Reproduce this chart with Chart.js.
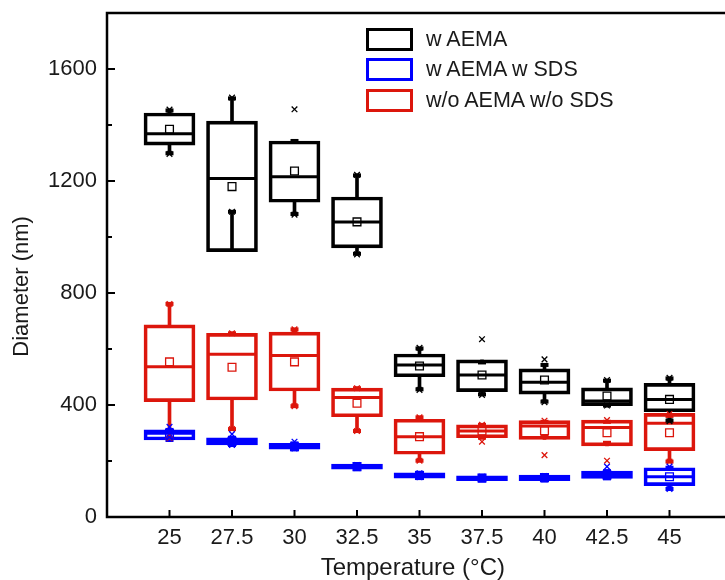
<!DOCTYPE html>
<html>
<head>
<meta charset="utf-8">
<script src="https://cdn.jsdelivr.net/npm/chart.js@4.4.1/dist/chart.umd.min.js"></script>
<style>
  html, body { margin: 0; padding: 0; background: #fff; overflow: hidden; }
  #clip { position: relative; width: 725px; height: 580px; overflow: hidden; }
  #wrap { position: relative; width: 745px; height: 580px; }
  #legend { position: absolute; left: 0; top: 0; font-family: "Liberation Sans", Arial, sans-serif; font-size: 21.5px; color: #1a1a1a; }
  .row { position: absolute; left: 366px; height: 23px; white-space: nowrap; }
  .sw { position: absolute; left: 0; top: 0; width: 41px; height: 17px; border: 3px solid #000; background: #fff; }
  .lbl { position: absolute; left: 60px; top: 0; line-height: 23px; }
</style>
</head>
<body>
<div id="clip"><div id="wrap">
  <canvas id="c" width="745" height="580" style="width:745px;height:580px"></canvas>
  <div id="legend"></div>
</div></div>
<script>
// ---- data ----
const categories = [25, 27.5, 30, 32.5, 35, 37.5, 40, 42.5, 45];
const xTickLabels = ['25', '27.5', '30', '32.5', '35', '37.5', '40', '42.5', '45'];
const yTicks = [0, 400, 800, 1200, 1600];
const yMinorTicks = [200, 600, 1000, 1400];
const seriesNames = ['w AEMA', 'w AEMA w SDS', 'w/o AEMA w/o SDS'];
const seriesColors = ['#000000', '#0000ff', '#dc160c'];

// w AEMA
const aemaQ1 = [1328, 948, 1124, 961, 501, 448, 439, 398, 376];
const aemaQ3 = [1443, 1414, 1343, 1143, 582, 561, 529, 461, 477];
const aemaMedian = [1369, 1209, 1215, 1054, 543, 507, 481, 414, 420];
const aemaMean = [1385, 1180, 1236, 1054, 539, 507, 489, 432, 420];
const aemaWhiskLow = [1299, 1090, 1082, 940, 456, 438, 412, 398, 344];
const aemaWhiskHigh = [1452, 1495, 1343, 1220, 602, 552, 543, 487, 495];
const aemaMin = [1297, 1090, 1080, 938, 454, 436, 410, 398, 342];
const aemaMax = [1455, 1498, 1456, 1222, 604, 635, 563, 489, 497];

// w AEMA w SDS
const sdsQ1 = [275, 257, 242, 171, 139, 130, 130, 138, 112];
const sdsQ3 = [311, 283, 263, 189, 158, 147, 150, 164, 176];
const sdsMedian = [299, 270, 251, 180, 148, 139, 141, 150, 144];
const sdsMean = [299, 270, 251, 180, 148, 139, 141, 150, 144];
const sdsWhiskLow = [275, 257, 242, 171, 139, 130, 130, 138, 100];
const sdsWhiskHigh = [311, 283, 263, 189, 158, 147, 150, 164, 176];
const sdsMin = [284, 257, 245, 175, 142, 136, 136, 145, 100];
const sdsMax = [322, 296, 269, 186, 156, 144, 146, 180, 180];

// w/o AEMA w/o SDS
const noQ1 = [412, 418, 450, 358, 224, 283, 277, 254, 237];
const noQ3 = [686, 656, 660, 460, 349, 329, 344, 346, 370];
const noMedian = [537, 581, 577, 427, 287, 307, 325, 320, 335];
const noMean = [554, 535, 554, 406, 287, 307, 308, 301, 301];
const noWhiskLow = [281, 314, 396, 307, 201, 283, 289, 265, 198];
const noWhiskHigh = [761, 656, 670, 460, 356, 329, 340, 340, 361];
const noMin = [281, 314, 396, 307, 201, 269, 221, 201, 198];
const noMax = [761, 656, 670, 460, 356, 329, 344, 346, 368];

const seriesData = [
  { q1: aemaQ1, q3: aemaQ3, med: aemaMedian, mean: aemaMean, wl: aemaWhiskLow, wh: aemaWhiskHigh, mn: aemaMin, mx: aemaMax },
  { q1: sdsQ1, q3: sdsQ3, med: sdsMedian, mean: sdsMean, wl: sdsWhiskLow, wh: sdsWhiskHigh, mn: sdsMin, mx: sdsMax },
  { q1: noQ1, q3: noQ3, med: noMedian, mean: noMean, wl: noWhiskLow, wh: noWhiskHigh, mn: noMin, mx: noMax }
];

// ---- build datasets ----
const datasets = [];
seriesData.forEach((s, k) => {
  const col = seriesColors[k];
  const name = seriesNames[k];
  datasets.push({ type: 'bar', label: name + ' whisker low', data: categories.map((c, i) => ({ x: c, y: [s.wl[i], s.q1[i]] })),
    backgroundColor: col, borderWidth: 0, barThickness: 3, grouped: false, order: 3 });
  datasets.push({ type: 'bar', label: name + ' whisker high', data: categories.map((c, i) => ({ x: c, y: [s.q3[i], s.wh[i]] })),
    backgroundColor: col, borderWidth: 0, barThickness: 3, grouped: false, order: 3 });
  datasets.push({ type: 'bar', label: name, data: categories.map((c, i) => ({ x: c, y: [s.q1[i], s.q3[i]] })),
    backgroundColor: 'rgba(255,255,255,0)', borderColor: col, borderWidth: 3, borderSkipped: false,
    barThickness: 51, grouped: false, order: 2 });
  datasets.push({ type: 'scatter', label: name + ' median', data: categories.map((c, i) => ({ x: c, y: s.med[i] })),
    pointStyle: 'line', pointRadius: 24, borderColor: col, pointBorderWidth: 3, order: 1 });
  datasets.push({ type: 'scatter', label: name + ' caps', data: categories.flatMap((c, i) => [{ x: c, y: s.wl[i] }, { x: c, y: s.wh[i] }]),
    pointStyle: 'line', pointRadius: 4, borderColor: col, pointBorderWidth: 4, order: 1 });
  datasets.push({ type: 'scatter', label: name + ' extremes', data: categories.flatMap((c, i) => [{ x: c, y: s.mn[i] }, { x: c, y: s.mx[i] }]),
    pointStyle: 'crossRot', pointRadius: 4, borderColor: col, pointBorderWidth: 1.3, order: 0 });
  datasets.push({ type: 'scatter', label: name + ' mean', data: categories.map((c, i) => ({ x: c, y: s.mean[i] })),
    pointStyle: 'rect', pointRadius: 5.5, borderColor: col, backgroundColor: 'rgba(255,255,255,0)', pointBorderWidth: 1.3, order: 0 });
});

// ---- frame & inward ticks ----
const framePlugin = {
  id: 'frame',
  afterDatasetsDraw(chart) {
    const { ctx, chartArea: a, scales } = chart;
    ctx.save();
    ctx.strokeStyle = '#000';
    ctx.lineWidth = 2.5;
    ctx.strokeRect(a.left, a.top, a.right - a.left, a.bottom - a.top);
    ctx.lineWidth = 2;
    ctx.beginPath();
    yTicks.forEach(v => { const y = scales.y.getPixelForValue(v); ctx.moveTo(a.left, y); ctx.lineTo(a.left + 8, y); });
    yMinorTicks.forEach(v => { const y = scales.y.getPixelForValue(v); ctx.moveTo(a.left, y); ctx.lineTo(a.left + 5, y); });
    categories.forEach(v => { const x = scales.x.getPixelForValue(v); ctx.moveTo(x, a.bottom); ctx.lineTo(x, a.bottom - 7); });
    ctx.stroke();
    ctx.restore();
  }
};

const fam = '"Liberation Sans", Arial, sans-serif';
const tickFont = { family: fam, size: 22 };
const noPad = s => { s.paddingTop = 0; s.paddingBottom = 0; s.paddingLeft = 0; s.paddingRight = 0; };

new Chart(document.getElementById('c'), {
  type: 'bar',
  data: { datasets },
  options: {
    responsive: false,
    animation: false,
    events: [],
    layout: { autoPadding: false, padding: { left: 0, right: 13, top: 13, bottom: 0 } },
    plugins: { legend: { display: false }, tooltip: { enabled: false } },
    scales: {
      x: {
        type: 'linear', min: 22.5, max: 47.5, offset: false,
        grid: { display: false, drawTicks: false }, border: { display: false },
        afterBuildTicks: s => { s.ticks = categories.map(v => ({ value: v })); },
        afterFit: s => { s.height = 63; noPad(s); },
        ticks: { font: tickFont, color: '#1a1a1a', padding: 8, maxRotation: 0, autoSkip: false,
          callback: v => { const i = categories.indexOf(v); return i >= 0 ? xTickLabels[i] : ''; } },
        title: { display: true, text: 'Temperature (°C)\u00a0\u00a0', font: { family: fam, size: 24, lineHeight: 1.0 }, color: '#1a1a1a', padding: { top: 0, bottom: 0 } }
      },
      y: {
        type: 'linear', min: 0, max: 1800,
        grid: { display: false, drawTicks: false }, border: { display: false },
        afterBuildTicks: s => { s.ticks = yTicks.map(v => ({ value: v })); },
        afterFit: s => { s.width = 107; noPad(s); },
        ticks: { font: tickFont, color: '#1a1a1a', padding: 10, callback: v => String(v) },
        title: { display: true, text: 'Diameter (nm)' + '\u00a0'.repeat(7), font: { family: fam, size: 22 }, color: '#1a1a1a', padding: { top: 9, bottom: 0 } }
      }
    }
  },
  plugins: [framePlugin]
});

// ---- legend (HTML text) ----
const legendTops = [28, 58, 89];
const lg = document.getElementById('legend');
seriesNames.forEach((n, k) => {
  const r = document.createElement('div');
  r.className = 'row';
  r.style.top = legendTops[k] + 'px';
  const sw = document.createElement('div');
  sw.className = 'sw';
  sw.style.borderColor = seriesColors[k];
  const t = document.createElement('div');
  t.className = 'lbl';
  t.textContent = n;
  r.appendChild(sw); r.appendChild(t);
  lg.appendChild(r);
});
</script>
</body>
</html>
